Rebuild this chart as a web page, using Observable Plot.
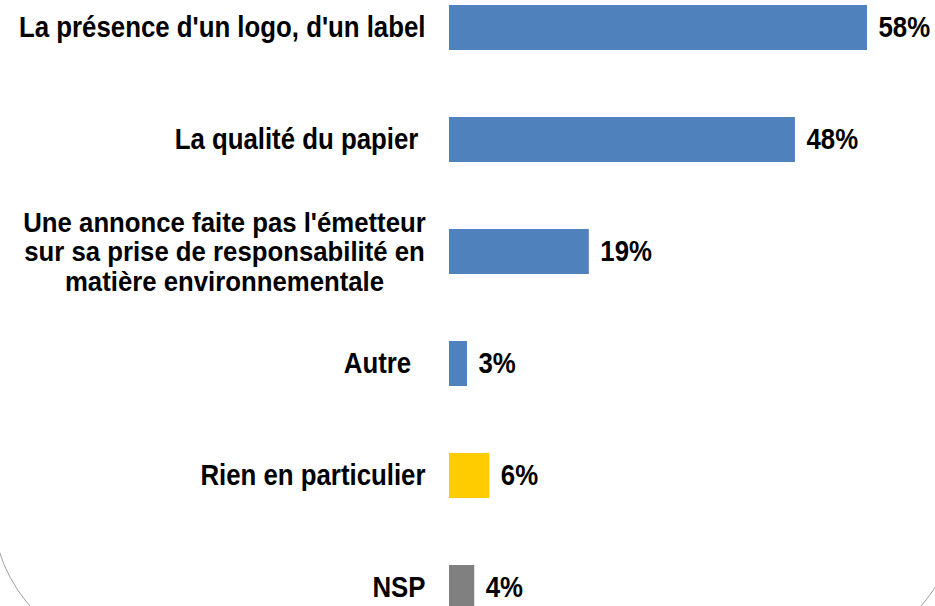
<!DOCTYPE html>
<html>
<head>
<meta charset="utf-8">
<script src="https://cdn.jsdelivr.net/npm/d3@7"></script>
<script src="https://cdn.jsdelivr.net/npm/@observablehq/plot@0.6"></script>
<style>
  html, body { margin: 0; padding: 0; background: #fff; }
  #wrap { position: relative; width: 935px; height: 606px; overflow: hidden; }
  #frame { position: absolute; left: -8px; top: -300px; width: 967px; height: 957px;
           border: 1.5px solid #a0a0a0; border-radius: 150px; box-sizing: border-box; }
  #chart { position: absolute; left: 0; top: 0; }
</style>
</head>
<body>
<div id="wrap"><div id="frame"></div><div id="chart"></div></div>
<script>
const categories = [
  "La présence d'un logo, d'un label",
  "La qualité du papier\u00a0",
  "Une annonce faite pas l'émetteur\nsur sa prise de responsabilité en\nmatière environnementale",
  "Autre\u00a0\u00a0",
  "Rien en particulier",
  "NSP"
];
const values = [58, 48, 19.4, 2.5, 5.6, 3.5];
const valueLabels = ["58%", "48%", "19%", "3%", "6%", "4%"];
const colors = ["#4F81BD", "#4F81BD", "#4F81BD", "#4F81BD", "#FFCC00", "#808080"];

const data = categories.map((c, i) => ({
  category: c, value: values[i], label: valueLabels[i], color: colors[i],
  multi: c.includes("\n")
}));

const font = "'Liberation Sans', Arial, sans-serif";

const chart = Plot.plot({
  width: 935,
  height: 606,
  margin: 0,
  style: { background: "transparent", fontFamily: font },
  x: { domain: [0, 58], range: [449, 867], axis: null },
  y: { domain: categories, range: [-29, 643], paddingInner: 0.6, paddingOuter: 0.3, axis: null },
  marks: [
    Plot.barX(data, { x: "value", y: "category", fill: "color" }),
    Plot.text(data.filter(d => !d.multi), {
      x: 0, y: "category", text: "category", textAnchor: "end", dx: -24,
      fontSize: 29, fontWeight: "bold", fill: "black", fontFamily: font
    }),
    Plot.text(data.filter(d => d.multi), {
      x: 0, y: "category", text: "category", textAnchor: "middle", dx: -225,
      fontSize: 28, lineHeight: 1.05, fontWeight: "bold", fill: "black", fontFamily: font
    }),
    Plot.text(data, {
      x: "value", y: "category", text: "label", textAnchor: "start", dx: 11,
      fontSize: 29, fontWeight: "bold", fill: "black", fontFamily: font
    })
  ]
});

// Condense the glyphs horizontally (the reference uses a narrow bold face)
d3.select(chart).selectAll("text").each(function () {
  const multi = this.querySelectorAll("tspan").length > 1;
  const s = multi ? 0.92 : 0.89;
  const t = this.getAttribute("transform") || "";
  this.setAttribute("transform", `${t} scale(${s},1)`);
});

document.getElementById("chart").appendChild(chart);
</script>
</body>
</html>
